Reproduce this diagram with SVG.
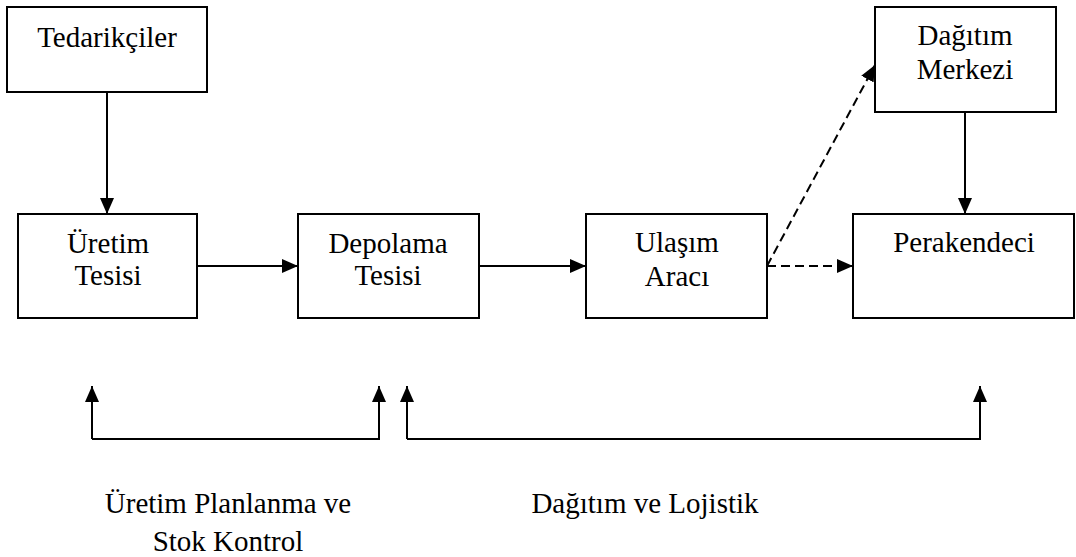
<svg xmlns="http://www.w3.org/2000/svg" width="1076" height="557" viewBox="0 0 1076 557" font-family="Liberation Serif, Tinos, Times New Roman, serif">
  <style>
    .box { fill: #fff; stroke: #000; stroke-width: 2; }
    .lbl { font-size: 29px; fill: #000; text-anchor: middle; }
    .edge { fill: none; stroke: #000; stroke-width: 2; }
    .dash { stroke-dasharray: 9 5; }
  </style>
  <defs>
    <marker id="arrow" markerUnits="userSpaceOnUse" markerWidth="16" markerHeight="14" refX="16" refY="7" orient="auto">
      <path d="M0,0 L16,7 L0,14 Z" fill="#000"/>
    </marker>
  </defs>
  <rect width="1076" height="557" fill="#fff"/>

  <g id="tedarikciler">
    <rect class="box" x="7" y="7" width="200" height="85"/>
    <text class="lbl" x="107" y="47">Tedarikçiler</text>
  </g>
  <g id="uretim-tesisi">
    <rect class="box" x="18" y="214" width="179" height="104"/>
    <text class="lbl" x="108" y="253">Üretim</text>
    <text class="lbl" x="108" y="285">Tesisi</text>
  </g>
  <g id="depolama-tesisi">
    <rect class="box" x="298" y="214" width="181" height="104"/>
    <text class="lbl" x="388" y="253">Depolama</text>
    <text class="lbl" x="388" y="285">Tesisi</text>
  </g>
  <g id="ulasim-araci">
    <rect class="box" x="586" y="214" width="181" height="104"/>
    <text class="lbl" x="677" y="252">Ulaşım</text>
    <text class="lbl" x="677" y="286">Aracı</text>
  </g>
  <g id="dagitim-merkezi">
    <rect class="box" x="875" y="7" width="181" height="105"/>
    <text class="lbl" x="965" y="45">Dağıtım</text>
    <text class="lbl" x="965" y="79">Merkezi</text>
  </g>
  <g id="perakendeci">
    <rect class="box" x="853" y="214" width="221" height="104"/>
    <text class="lbl" x="964" y="252">Perakendeci</text>
  </g>

  <g id="connectors">
    <line class="edge" x1="107" y1="92" x2="107" y2="214" marker-end="url(#arrow)"/>
    <line class="edge" x1="197" y1="266" x2="298" y2="266" marker-end="url(#arrow)"/>
    <line class="edge" x1="479" y1="266" x2="586" y2="266" marker-end="url(#arrow)"/>
    <line class="edge dash" x1="767" y1="266" x2="853" y2="266" marker-end="url(#arrow)"/>
    <line class="edge dash" x1="767" y1="266" x2="875" y2="65" marker-end="url(#arrow)"/>
    <line class="edge" x1="965" y1="112" x2="965" y2="214" marker-end="url(#arrow)"/>
    <!-- feedback brackets -->
    <polyline class="edge" points="92,439 92,386" marker-end="url(#arrow)"/>
    <polyline class="edge" points="92,439 379,439 379,386" marker-end="url(#arrow)"/>
    <polyline class="edge" points="407,439 407,386" marker-end="url(#arrow)"/>
    <polyline class="edge" points="407,439 980,439 980,386" marker-end="url(#arrow)"/>
  </g>

  <g id="captions">
    <text class="lbl" x="228" y="513">Üretim Planlanma ve</text>
    <text class="lbl" x="228" y="551">Stok Kontrol</text>
    <text class="lbl" x="645" y="513">Dağıtım ve Lojistik</text>
  </g>
</svg>
